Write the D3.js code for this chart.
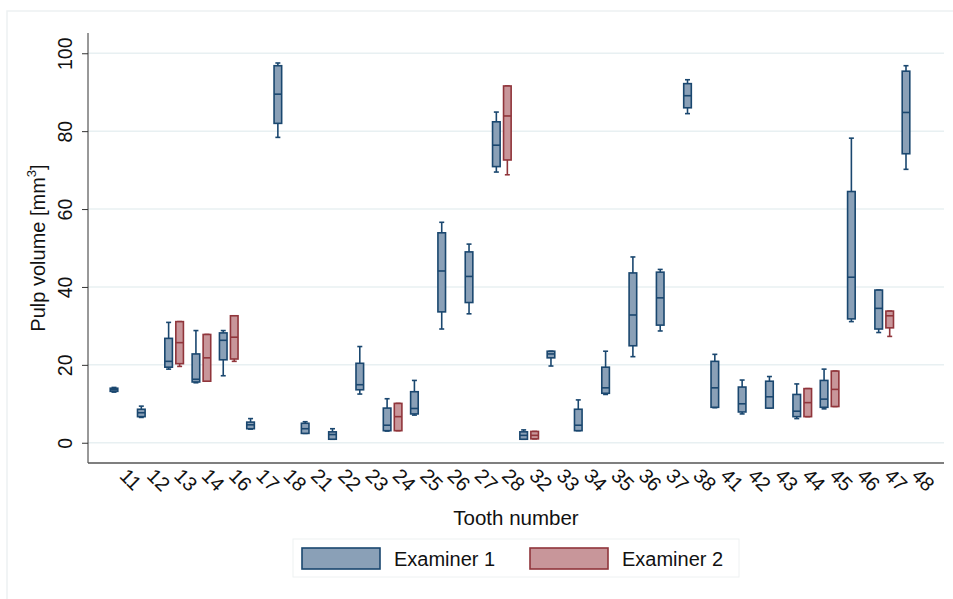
<!DOCTYPE html>
<html>
<head>
<meta charset="utf-8">
<script src="https://cdnjs.cloudflare.com/ajax/libs/d3/7.8.5/d3.min.js"></script>
<style>
  body { margin: 0; background: #fff; }
  svg text { font-family: "Liberation Sans", Arial, sans-serif; fill: #111; }
</style>
</head>
<body>
<svg id="chart"></svg>
<script>
// tooth numbers on the x axis
var teeth = ["11","12","13","14","16","17","18","21","22","23","24","25","26","27","28",
             "32","33","34","35","36","37","38","41","42","43","44","45","46","47","48"];

// examiner 1 : whisker low, q1, median, q3, whisker high
var ex1Low  = [13.0, 6.5, 18.9, 15.4, 17.2, 3.5, 78.4, 2.4, 0.9, 12.5, 3.0, 7.1, 29.2, 33.1, 69.5,
               0.9, 19.7, 3.1, 12.4, 22.1, 28.7, 84.5, 9.0, 7.4, 8.9, 6.2, 8.7, 31.1, 28.3, 70.2];
var ex1Q1   = [13.2, 6.7, 19.4, 15.6, 21.3, 3.6, 82.0, 2.4, 0.9, 13.6, 3.1, 7.4, 33.6, 36.0, 70.9,
               0.9, 21.8, 3.1, 12.7, 24.9, 30.2, 86.0, 9.1, 7.9, 8.9, 6.7, 9.1, 31.8, 29.2, 74.2];
var ex1Med  = [13.6, 7.7, 20.9, 16.3, 26.3, 4.6, 89.5, 3.6, 2.1, 14.9, 4.5, 8.8, 44.1, 42.7, 76.4,
               1.9, 22.8, 4.5, 14.1, 32.8, 37.2, 89.1, 14.1, 10.0, 11.8, 8.1, 11.2, 42.5, 34.5, 84.8];
var ex1Q3   = [14.0, 8.6, 26.8, 22.8, 28.2, 5.3, 96.8, 5.0, 2.8, 20.4, 8.9, 13.1, 53.9, 49.0, 82.4,
               2.8, 23.5, 8.6, 19.4, 43.6, 43.8, 92.2, 20.9, 14.3, 15.8, 12.4, 16.0, 64.5, 39.2, 95.4];
var ex1High = [14.2, 9.4, 30.9, 28.8, 28.8, 6.2, 97.5, 5.4, 3.6, 24.7, 11.3, 16.0, 56.6, 51.0, 84.9,
               3.3, 23.5, 11.0, 23.5, 47.7, 44.5, 93.2, 22.7, 16.1, 17.0, 15.1, 18.9, 78.2, 39.2, 96.8];

// examiner 2 only measured some teeth (null = no box)
var ex2Low  = [null, null, 19.6, 15.8, 20.9, null, null, null, null, null, 3.1, null, null, null, 68.8,
               1.0, null, null, null, null, null, null, null, null, null, 6.7, 9.3, null, 27.3, null];
var ex2Q1   = [null, null, 20.3, 15.8, 21.5, null, null, null, null, null, 3.1, null, null, null, 72.6,
               1.0, null, null, null, null, null, null, null, null, null, 6.7, 9.3, null, 29.5, null];
var ex2Med  = [null, null, 25.7, 21.8, 27.1, null, null, null, null, null, 6.7, null, null, null, 83.9,
               1.9, null, null, null, null, null, null, null, null, null, 10.3, 13.7, null, 32.6, null];
var ex2Q3   = [null, null, 31.1, 27.8, 32.6, null, null, null, null, null, 10.1, null, null, null, 91.6,
               2.9, null, null, null, null, null, null, null, null, null, 13.9, 18.4, null, 33.8, null];
var ex2High = [null, null, 31.1, 27.8, 32.6, null, null, null, null, null, 10.1, null, null, null, 91.6,
               2.9, null, null, null, null, null, null, null, null, null, 13.9, 18.4, null, 33.8, null];

var yTicks = [0, 20, 40, 60, 80, 100];
var seriesNames = ["Examiner 1", "Examiner 2"];

var width = 953, height = 599;
var plotLeft = 88, plotRight = 944, plotTop = 33, plotBottom = 463;

var blueLine = "#1a476f", blueFill = "#8aa0b7";
var redLine = "#90353b", redFill = "#c8969a";

var svg = d3.select("#chart")
    .attr("width", width)
    .attr("height", height);

// faint outer frame
svg.append("path")
    .attr("d", "M7," + height + "V11H" + width)
    .attr("fill", "none")
    .attr("stroke", "#edf1f2")
    .attr("stroke-width", 1.5);

var x = d3.scalePoint()
    .domain(teeth)
    .range([119.5, 911.5]);

var y = d3.scaleLinear()
    .domain([-5.2, 105.2])
    .range([plotBottom, plotTop]);

// gridlines
svg.append("g").selectAll("line")
    .data(yTicks)
    .enter()
    .append("line")
    .attr("x1", plotLeft)
    .attr("x2", plotRight)
    .attr("y1", function(d) { return y(d); })
    .attr("y2", function(d) { return y(d); })
    .attr("stroke", "#e8f0f2")
    .attr("stroke-width", 1.5);

// y axis
var yAxis = svg.append("g")
    .attr("transform", "translate(" + plotLeft + ",0)")
    .call(d3.axisLeft(y).tickValues(yTicks).tickSize(6).tickFormat(d3.format("d")));
yAxis.select(".domain").attr("d", "M0," + plotTop + "V" + plotBottom).attr("stroke", "#333");
yAxis.selectAll(".tick line").attr("stroke", "#333");
yAxis.selectAll(".tick text")
    .attr("font-size", "19.5px")
    .attr("font-family", "Liberation Sans, Arial, sans-serif")
    .attr("fill", "#111")
    .attr("text-anchor", "middle")
    .attr("x", 0)
    .attr("dy", 0)
    .attr("transform", "translate(-16,0) rotate(-90)");

// x axis line, no ticks
svg.append("line")
    .attr("x1", plotLeft)
    .attr("x2", plotRight)
    .attr("y1", plotBottom)
    .attr("y2", plotBottom)
    .attr("stroke", "#555")
    .attr("stroke-width", 1.3);

svg.append("g").selectAll("text")
    .data(teeth)
    .enter()
    .append("text")
    .text(function(d) { return d; })
    .attr("font-size", "20px")
    .attr("transform", function(d) {
        return "translate(" + (x(d) - 1) + ",477) rotate(45)";
    });

// boxes
function drawBoxes(lo, q1, med, q3, hi, offset, line, fill) {
    var rows = teeth.map(function(t, i) {
        return { t: t, lo: lo[i], q1: q1[i], med: med[i], q3: q3[i], hi: hi[i] };
    }).filter(function(d) { return d.med !== null; });

    var g = svg.append("g").selectAll("g")
        .data(rows)
        .enter()
        .append("g")
        .attr("transform", function(d) { return "translate(" + (x(d.t) + offset) + ",0)"; })
        .attr("stroke", line)
        .attr("stroke-width", 1.6);

    // whiskers
    g.append("line")
        .attr("y1", function(d) { return y(d.hi); })
        .attr("y2", function(d) { return y(d.q3); });
    g.append("line")
        .attr("y1", function(d) { return y(d.q1); })
        .attr("y2", function(d) { return y(d.lo); });
    g.append("line")
        .attr("x1", -2.5).attr("x2", 2.5)
        .attr("y1", function(d) { return y(d.hi); })
        .attr("y2", function(d) { return y(d.hi); });
    g.append("line")
        .attr("x1", -2.5).attr("x2", 2.5)
        .attr("y1", function(d) { return y(d.lo); })
        .attr("y2", function(d) { return y(d.lo); });

    g.append("rect")
        .attr("x", -3.8)
        .attr("width", 7.6)
        .attr("y", function(d) { return y(d.q3); })
        .attr("height", function(d) { return Math.max(1, y(d.q1) - y(d.q3)); })
        .attr("fill", fill);

    g.append("line")
        .attr("x1", -3.8).attr("x2", 3.8)
        .attr("y1", function(d) { return y(d.med); })
        .attr("y2", function(d) { return y(d.med); });
}

drawBoxes(ex1Low, ex1Q1, ex1Med, ex1Q3, ex1High, -5.5, blueLine, blueFill);
drawBoxes(ex2Low, ex2Q1, ex2Med, ex2Q3, ex2High, 5.5, redLine, redFill);

// axis titles
svg.append("text")
    .attr("x", (plotLeft + plotRight) / 2)
    .attr("y", 525)
    .attr("text-anchor", "middle")
    .attr("font-size", "20.5px")
    .text("Tooth number");

var yTitle = svg.append("text")
    .attr("transform", "translate(45," + ((plotTop + plotBottom) / 2) + ") rotate(-90)")
    .attr("text-anchor", "middle")
    .attr("font-size", "20px");
yTitle.append("tspan").text("Pulp volume [mm");
yTitle.append("tspan").text("3").attr("font-size", "13px").attr("dy", -9);
yTitle.append("tspan").text("]").attr("dy", 9);

// legend
var legend = svg.append("g");
legend.append("rect")
    .attr("x", 293).attr("y", 539)
    .attr("width", 446).attr("height", 38)
    .attr("fill", "#fff")
    .attr("stroke", "#eef1f2");

var legendX = [302, 530];
var legendColors = [[blueLine, blueFill], [redLine, redFill]];
seriesNames.forEach(function(name, i) {
    legend.append("rect")
        .attr("x", legendX[i]).attr("y", 548)
        .attr("width", 78).attr("height", 21)
        .attr("fill", legendColors[i][1])
        .attr("stroke", legendColors[i][0])
        .attr("stroke-width", 1.6);
    legend.append("text")
        .attr("x", legendX[i] + 92)
        .attr("y", 566)
        .attr("font-size", "20px")
        .text(name);
});
</script>
</body>
</html>
